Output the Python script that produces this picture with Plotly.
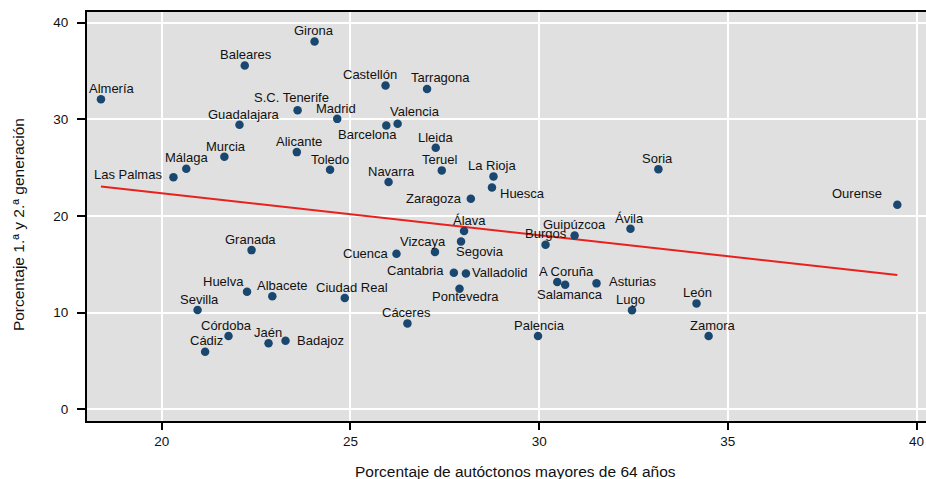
import numpy as np
import plotly.graph_objects as go

# Provincias: porcentaje de autóctonos mayores de 64 años (x)
# y porcentaje de población de 1.ª y 2.ª generación (y)
provincias = [
    "Almería", "Las Palmas", "Málaga", "Murcia", "Guadalajara", "Baleares",
    "S.C. Tenerife", "Alicante", "Girona", "Toledo", "Madrid", "Castellón",
    "Barcelona", "Valencia", "Navarra", "Tarragona", "Lleida", "Teruel",
    "Zaragoza", "La Rioja", "Huesca", "Soria", "Ourense", "Álava", "Segovia",
    "Vizcaya", "Cuenca", "Granada", "Burgos", "Guipúzcoa", "Ávila",
    "Cantabria", "Valladolid", "Pontevedra", "A Coruña", "Salamanca",
    "Asturias", "Huelva", "Albacete", "Ciudad Real", "Sevilla", "Lugo",
    "León", "Cáceres", "Córdoba", "Badajoz", "Jaén", "Cádiz", "Palencia",
    "Zamora",
]
mayores_64 = [
    18.39, 20.31, 20.65, 21.66, 22.06, 22.20,
    23.60, 23.58, 24.05, 24.46, 24.65, 25.93,
    25.95, 26.25, 26.01, 27.03, 27.26, 27.42,
    28.19, 28.79, 28.75, 33.16, 39.49, 28.01, 27.93,
    27.24, 26.22, 22.38, 30.17, 30.94, 32.42,
    27.74, 28.06, 27.89, 30.48, 30.69,
    31.52, 22.26, 22.93, 24.85, 20.95, 32.46,
    34.17, 26.51, 21.77, 23.28, 22.83, 21.15, 29.97,
    34.49,
]
generaciones = [
    32.09, 24.02, 24.88, 26.12, 29.43, 35.57,
    30.95, 26.61, 38.06, 24.78, 30.05, 33.51,
    29.37, 29.54, 23.51, 33.15, 27.05, 24.72,
    21.78, 24.10, 22.96, 24.85, 21.16, 18.44, 17.37,
    16.27, 16.09, 16.47, 17.02, 17.99, 18.68,
    14.13, 14.06, 12.47, 13.16, 12.89,
    13.03, 12.16, 11.69, 11.51, 10.27, 10.24,
    10.96, 8.89, 7.58, 7.10, 6.83, 5.96, 7.58,
    7.58,
]
x_ticks = [20, 25, 30, 35, 40]
y_ticks = [0, 10, 20, 30, 40]

# Placement of each label around its marker:
# (anchor, dx, dy) in pixels; anchor c = centred, l = left edge, r = right edge
label_pos = {
    "Girona": ("c", -1, -10.6), "Baleares": ("c", 1.4, -11),
    "Almería": ("c", 11.3, -10.3), "S.C. Tenerife": ("c", -6.6, -13),
    "Madrid": ("c", -1, -10.4), "Guadalajara": ("c", 4.5, -10.4),
    "Murcia": ("c", 2, -10.7), "Alicante": ("c", 2, -10.7),
    "Toledo": ("c", 0.3, -10.7), "Málaga": ("c", 0.7, -11),
    "Las Palmas": ("r", -9, -3), "Castellón": ("c", -15.3, -11),
    "Tarragona": ("c", 13.3, -11.7), "Valencia": ("c", 16.9, -12.7),
    "Barcelona": ("c", -18.3, 9.4), "Lleida": ("c", -0.3, -10.7),
    "Teruel": ("c", -2, -11), "Navarra": ("c", 3, -10.7),
    "La Rioja": ("c", -1, -10.6), "Huesca": ("l", 5.6, 5.7),
    "Zaragoza": ("r", -7, -0.4), "Álava": ("c", 5.8, -10.7),
    "Segovia": ("c", 18.5, 10), "Vizcaya": ("c", -11.5, -10.7),
    "Cuenca": ("r", -5.7, -0.4), "Cantabria": ("r", -7.6, -2),
    "Valladolid": ("l", 4.3, -1.3), "Pontevedra": ("c", 5.9, 8),
    "Burgos": ("c", 0, -11.4), "Guipúzcoa": ("c", -0.3, -10.6),
    "Ávila": ("c", -1.3, -10), "A Coruña": ("c", 9.5, -10.7),
    "Salamanca": ("c", 4.7, 9.3), "Asturias": ("l", 10, -1.6),
    "Lugo": ("c", -1.7, -10.6), "León": ("c", 1, -10.6),
    "Palencia": ("c", 1.6, -10.3), "Zamora": ("c", 4.3, -11),
    "Soria": ("c", -1.3, -10.3), "Ourense": ("r", -13, -11),
    "Granada": ("c", -0.7, -10.7), "Huelva": ("r", -1.4, -10.7),
    "Albacete": ("c", 9.7, -11.3), "Ciudad Real": ("c", 7, -10.7),
    "Sevilla": ("c", 1.7, -10.7), "Cáceres": ("c", -1, -10.6),
    "Córdoba": ("c", -2, -10.7), "Cádiz": ("c", 1.6, -11),
    "Jaén": ("c", -0.3, -10.6), "Badajoz": ("l", 9.3, 0),
}

FONT = "Liberation Sans, Arial, Helvetica, sans-serif"
NAVY = "#1a476f"

x = np.array(mayores_64)
y = np.array(generaciones)

# Linear fit over the observed x span
slope, intercept = np.polyfit(x, y, 1)
fit_x = np.array([x.min(), x.max()])
fit_y = intercept + slope * fit_x

fig = go.Figure()
fig.add_trace(go.Scatter(
    x=fit_x, y=fit_y, mode="lines",
    line=dict(color="#e8211c", width=2), hoverinfo="skip",
))
fig.add_trace(go.Scatter(
    x=mayores_64, y=generaciones, mode="markers",
    marker=dict(color=NAVY, size=8.5, line=dict(width=0)),
    text=provincias, hoverinfo="text",
))

anchors = {"c": "center", "l": "left", "r": "right"}
for name, xv, yv in zip(provincias, mayores_64, generaciones):
    a, dx, dy = label_pos[name]
    fig.add_annotation(
        x=xv, y=yv, text=name, showarrow=False,
        xanchor=anchors[a], yanchor="middle",
        xshift=dx, yshift=-dy,
        font=dict(family=FONT, size=13, color="#111111"),
    )

# Axis titles
fig.add_annotation(
    x=0.511, y=-0.148, xref="paper", yref="paper",
    text="Porcentaje de autóctonos mayores de 64 años",
    showarrow=False, xanchor="center", yanchor="bottom",
    font=dict(family=FONT, size=15.5, color="#111111"),
)
fig.add_annotation(
    x=-0.0822, y=0.479, xref="paper", yref="paper",
    text="Porcentaje 1.ª y 2.ª generación", textangle=-90,
    showarrow=False, xanchor="center", yanchor="middle",
    font=dict(family=FONT, size=15.5, color="#111111"),
)

fig.update_layout(
    width=926, height=479,
    margin=dict(l=87, r=0, t=12, b=58),
    paper_bgcolor="white", plot_bgcolor="#e0e0e0",
    showlegend=False,
    font=dict(family=FONT, color="#111111"),
)
fig.update_xaxes(
    range=[18.02, 40.25], tickvals=x_ticks, ticktext=[str(t) for t in x_ticks],
    showgrid=True, gridcolor="white", gridwidth=1.5,
    showline=True, linecolor="black", linewidth=2, mirror=True,
    ticks="outside", ticklen=7, tickwidth=1.5, tickcolor="black",
    tickfont=dict(family=FONT, size=13.5, color="#111111"),
    zeroline=False,
)
fig.update_yaxes(
    range=[-1.21, 41.107], tickvals=y_ticks, ticktext=[str(t) for t in y_ticks],
    showgrid=True, gridcolor="white", gridwidth=1.5,
    showline=True, linecolor="black", linewidth=2, mirror=False,
    ticks="outside", ticklen=8, tickwidth=1.5, tickcolor="black",
    tickfont=dict(family=FONT, size=13.5, color="#111111"),
    ticklabelstandoff=6,
    zeroline=False,
)

fig.write_html("out.html", config={"displayModeBar": False})
